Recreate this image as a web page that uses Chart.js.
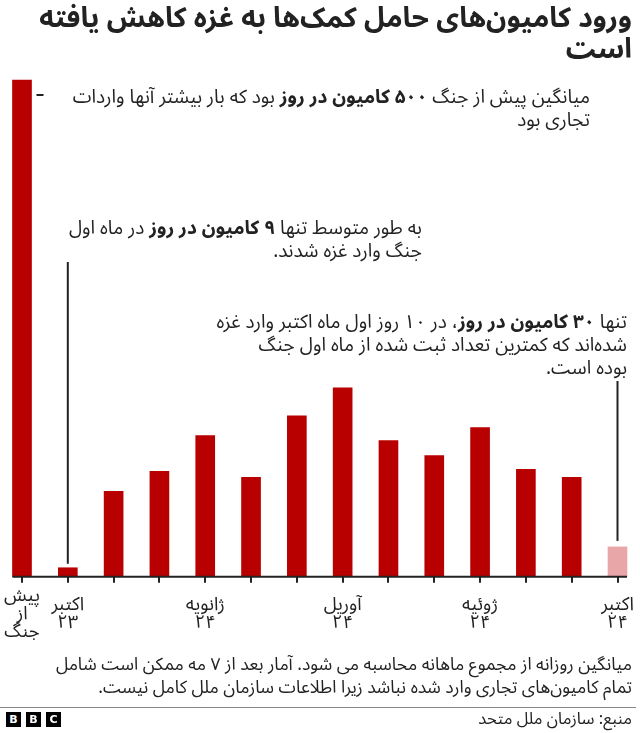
<!DOCTYPE html>
<html lang="fa" dir="rtl">
<head>
<meta charset="utf-8">
<script src="https://cdn.jsdelivr.net/npm/chart.js@4"></script>
<style>
  html, body { margin: 0; padding: 0; background: #fff; }
  body { width: 640px; height: 733px; position: relative; overflow: hidden;
         font-family: "Noto Sans Arabic", "Vazirmatn", "DejaVu Sans", sans-serif; color: #222; }
  #c { position: absolute; left: 0; top: 0; }
  .t { position: absolute; white-space: nowrap; text-align: right; direction: rtl; }
  #title { right: 8px; top: 3px; font-size: 28px; font-weight: bold; line-height: 31px; color: #222; }
  .ann { font-size: 19px; line-height: 23px; color: #222; }
  #a1 { right: 50px; top: 86px; }
  #a2 { right: 218px; top: 217px; }
  #a3 { right: 13px; top: 311px; }
  #note { right: 8px; top: 653px; font-size: 17.5px; line-height: 23px; color: #222; }
  #rule { position: absolute; left: 0; width: 636px; top: 707px; height: 0; border-top: 1px solid #888; }
  #src { right: 8px; top: 709px; font-size: 16.5px; line-height: 20px; color: #222; }
  .bbc { position: absolute; top: 712px; width: 15px; height: 15px; background: #000; color: #fff;
         font: bold 11px/15px "DejaVu Sans", Arial, sans-serif; text-align: center; direction: ltr; }
</style>
</head>
<body>
<canvas id="c" width="640" height="733"></canvas>
<div class="t" id="title">ورود کامیون‌های حامل کمک‌ها به غزه کاهش یافته<br>است</div>
<div class="t ann" id="a1">میانگین پیش از جنگ <b>۵۰۰ کامیون در روز</b> بود که بار بیشتر آنها واردات<br>تجاری بود</div>
<div class="t ann" id="a2">به طور متوسط تنها <b>۹ کامیون در روز</b> در ماه اول<br>جنگ وارد غزه شدند.</div>
<div class="t ann" id="a3">تنها <b>۳۰ کامیون در روز</b>، در ۱۰ روز اول ماه اکتبر وارد غزه<br>شده‌اند که کمترین تعداد ثبت شده از ماه اول جنگ<br>بوده است.</div>
<div class="t" id="note">میانگین روزانه از مجموع ماهانه محاسبه می شود. آمار بعد از ۷ مه ممکن است شامل<br>تمام کامیون‌های تجاری وارد شده نباشد زیرا اطلاعات سازمان ملل کامل نیست.</div>
<div id="rule"></div>
<div class="bbc" style="left:6px">B</div>
<div class="bbc" style="left:26px">B</div>
<div class="bbc" style="left:46px">C</div>
<div class="t" id="src">منبع: سازمان ملل متحد</div>
<script>
const categories = ['پیش از جنگ','اکتبر ۲۳','نوامبر ۲۳','دسامبر ۲۳','ژانویه ۲۴','فوریه ۲۴','مارس ۲۴','آوریل ۲۴','مه ۲۴','ژوئن ۲۴','ژوئیه ۲۴','اوت ۲۴','سپتامبر ۲۴','اکتبر ۲۴'];
const trucksPerDay = [500, 9, 86, 106, 142, 100, 162, 190, 137, 122, 150, 108, 100, 30];
const tickLabels = [['پیش','از','جنگ'], ['اکتبر','۲۳'], '', '', ['ژانویه','۲۴'], '', '', ['آوریل','۲۴'], '', '', ['ژوئیه','۲۴'], '', '', ['اکتبر','۲۴']];
const partialIndex = 13;

const RED = '#b80000', PINK = '#e9a6a8', INK = '#222';
const FONT = '"Noto Sans Arabic", "Vazirmatn", "DejaVu Sans", sans-serif';

const overlay = {
  id: 'overlay',
  afterDatasetsDraw(chart) {
    const ctx = chart.ctx;
    const bars = chart.getDatasetMeta(0).data;
    const base = chart.scales.y.getPixelForValue(0);
    ctx.save();
    ctx.strokeStyle = INK;
    ctx.lineWidth = 2;
    ctx.beginPath();
    ctx.moveTo(bars[0].x - bars[0].width / 2, base);
    ctx.lineTo(bars[bars.length - 1].x + bars[bars.length - 1].width / 2, base);
    ctx.stroke();
    ctx.beginPath();
    const dx = bars[0].x + bars[0].width / 2 + 5;
    ctx.moveTo(dx, 95); ctx.lineTo(dx + 7, 95);
    ctx.stroke();
    ctx.beginPath();
    ctx.moveTo(bars[1].x, 262); ctx.lineTo(bars[1].x, bars[1].y - 4);
    ctx.stroke();
    ctx.beginPath();
    ctx.moveTo(bars[13].x, 381); ctx.lineTo(bars[13].x, bars[13].y - 6);
    ctx.stroke();
    ctx.restore();
  }
};

new Chart(document.getElementById('c'), {
  type: 'bar',
  data: {
    labels: categories,
    datasets: [{
      data: trucksPerDay,
      backgroundColor: trucksPerDay.map((v, i) => i === partialIndex ? PINK : RED),
      barThickness: 19,
      borderWidth: 0,
      clip: false
    }]
  },
  options: {
    responsive: false,
    animation: false,
    layout: { padding: { left: 22, right: 22.5, top: 80, bottom: 76.3 } },
    plugins: { legend: { display: false }, tooltip: { enabled: false }, title: { display: false } },
    scales: {
      x: {
        offset: false,
        grid: { display: true, offset: false, drawOnChartArea: false, drawTicks: true, tickLength: 6, color: INK, lineWidth: 2 },
        border: { display: false },
        afterFit(scale) { scale.height = 80; scale.paddingLeft = 0; scale.paddingRight = 0; },
        ticks: {
          autoSkip: false,
          maxRotation: 0,
          minRotation: 0,
          padding: 16,
          crossAlign: 'center',
          color: INK,
          font: { family: FONT, size: 18.5, lineHeight: '18px' },
          callback: (v, i) => tickLabels[i]
        }
      },
      y: { display: false, min: 0, max: 500 }
    }
  },
  plugins: [overlay]
});
</script>
</body>
</html>
